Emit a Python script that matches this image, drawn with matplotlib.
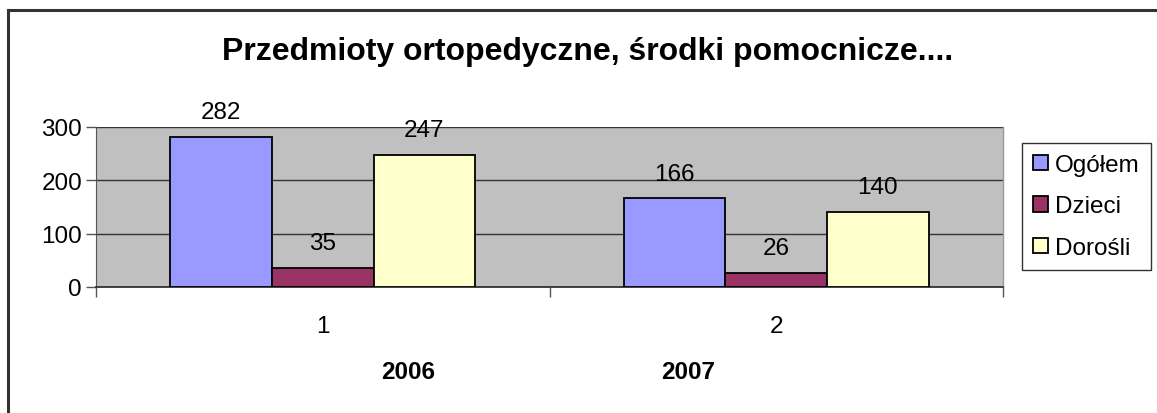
import numpy as np
import matplotlib
matplotlib.use("Agg")
import matplotlib.pyplot as plt
from matplotlib.lines import Line2D

plt.rcParams['font.family'] = ['Liberation Sans', 'DejaVu Sans']

# Data
categories = ['1', '2']
years = ['2006', '2007']
series_names = ['Ogółem', 'Dzieci', 'Dorośli']
ogolem = [282, 166]
dzieci = [35, 26]
dorosli = [247, 140]
colors = ['#9999FF', '#993366', '#FFFFCC']

W, H = 1157, 414
FS = 17.5
fig = plt.figure(figsize=(W / 100, H / 100), dpi=100)

# outer frame (left + top only visible)
fig.add_artist(Line2D([7.5 / W, 7.5 / W], [0, 1 - 10.5 / H], color='#333333', lw=2.2))
fig.add_artist(Line2D([7.5 / W, 1], [1 - 10.5 / H, 1 - 10.5 / H], color='#333333', lw=2.2))

# plot area in pixels: x 96..1003, y 128..288
ax = fig.add_axes([96 / W, 1 - 288 / H, (1003 - 96) / W, (288 - 128) / H])
ax.set_facecolor('#C0C0C0')

x = np.arange(1, len(categories) + 1)
bw = 0.224
for i, (vals, name) in enumerate(zip([ogolem, dzieci, dorosli], series_names)):
    pos = x + (i - 1) * bw
    bars = ax.bar(pos, vals, bw, color=colors[i], edgecolor='black', linewidth=1.3,
                  label=name, zorder=3)
    for b, v in zip(bars, vals):
        ax.annotate(str(v), (b.get_x() + b.get_width() / 2, v), xytext=(0, 10),
                    textcoords='offset points', ha='center', va='bottom',
                    fontsize=FS, zorder=4, annotation_clip=False)

ax.set_xlim(0.5, 2.5)
ax.set_ylim(0, 300)
ax.set_yticks([0, 100, 200, 300])
ax.yaxis.grid(True, color='#333333', lw=1.0, zorder=1)
ax.set_axisbelow(True)
ax.tick_params(axis='y', labelsize=FS, length=7, width=1, color='#555555', pad=3)

ax.set_xticks([0.5, 1.5, 2.5])
ax.set_xticklabels([])
ax.set_xticks(x, minor=True)
ax.set_xticklabels(categories, minor=True)
ax.tick_params(axis='x', which='major', length=7, width=1, color='#555555')
ax.tick_params(axis='x', which='minor', length=0, labelsize=FS, pad=20)

for s in ['top', 'right']:
    ax.spines[s].set_visible(False)
ax.spines['left'].set_color('#555555')
ax.spines['bottom'].set_color('#333333')
ax.spines['bottom'].set_linewidth(1.3)
ax.plot([1, 1], [0, 1], transform=ax.transAxes, color='#999999', lw=1, clip_on=False)

# year labels
fig.text(408 / W, 1 - 373 / H, years[0], ha='center', va='center', fontsize=FS, fontweight='bold')
fig.text(688 / W, 1 - 373 / H, years[1], ha='center', va='center', fontsize=FS, fontweight='bold')

fig.text(588 / W, 1 - 52 / H, 'Przedmioty ortopedyczne, środki pomocnicze....',
         ha='center', va='center', fontsize=23, fontweight='bold')

leg = fig.legend(loc='upper left', bbox_to_anchor=(1022 / W, 1 - 144 / H), fontsize=FS,
                 frameon=True, fancybox=False, edgecolor='black', handlelength=0.6,
                 handleheight=0.6, handletextpad=0.3, borderpad=0.45, labelspacing=0.8,
                 borderaxespad=0)
leg.get_frame().set_linewidth(1.0)
for h in leg.legend_handles:
    h.set_linewidth(1.3)

fig.savefig('out.png', dpi=100, facecolor='white')
